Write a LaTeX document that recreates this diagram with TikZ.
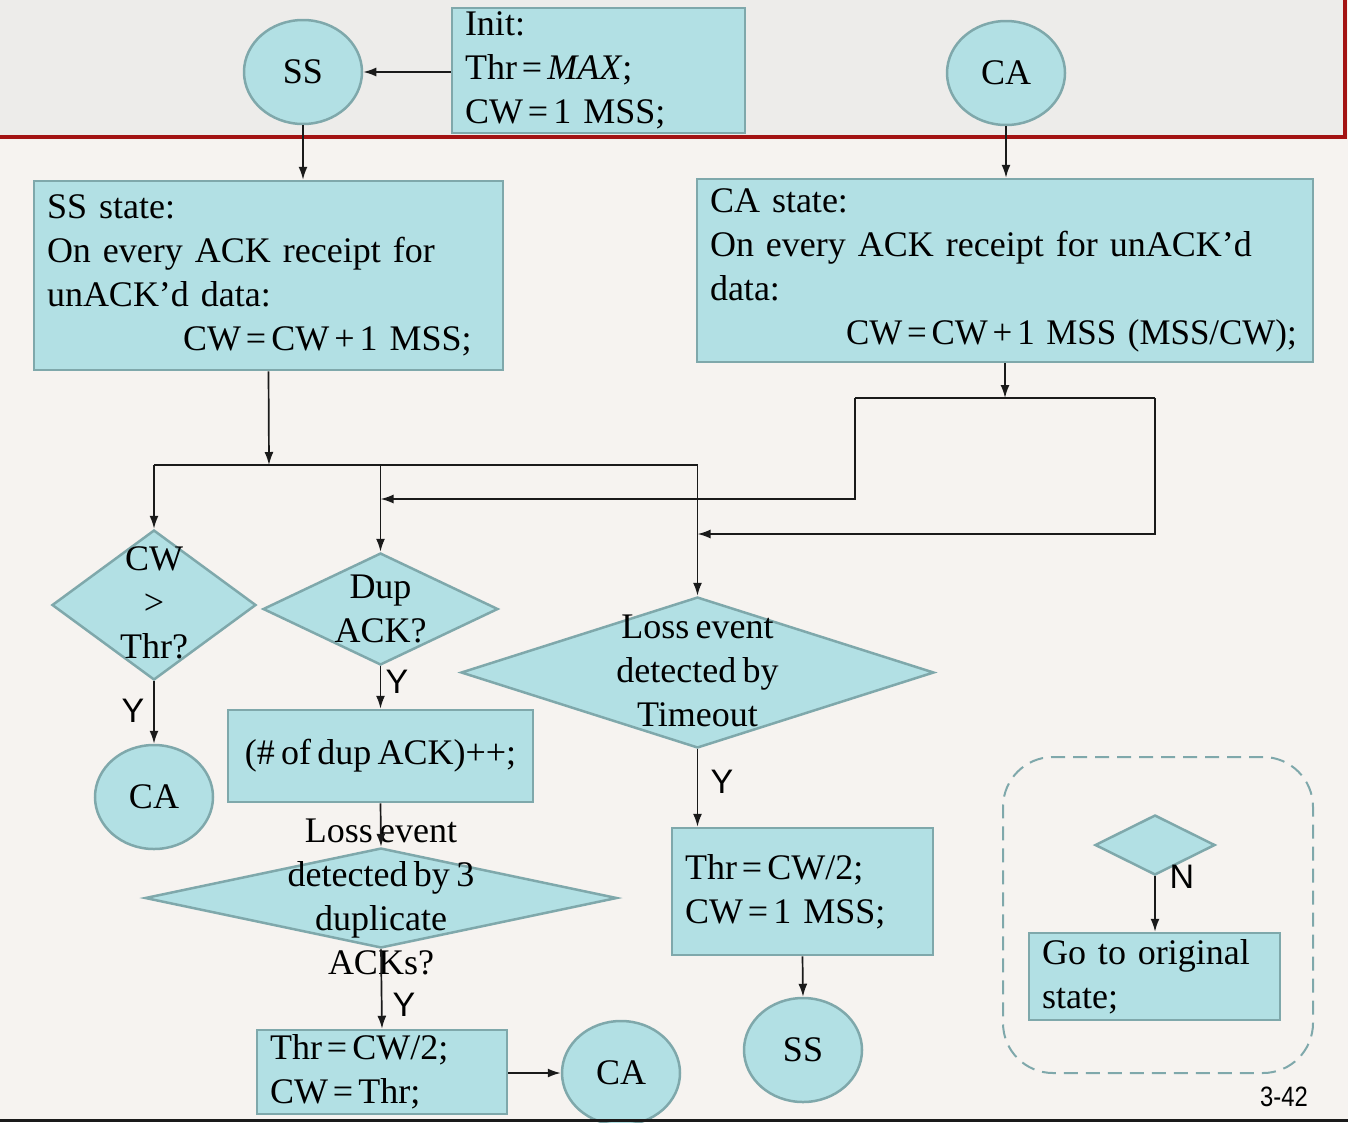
\documentclass[tikz,border=0pt]{standalone}
\usepackage{fontspec}
\setmainfont[WordSpace=0.7]{Liberation Serif}
\newfontfamily\lsans{Liberation Sans}
\usepackage{graphicx}
\usetikzlibrary{shapes.geometric,arrows.meta}
\definecolor{boxfill}{HTML}{B2E0E4}
\definecolor{boxline}{HTML}{7FA8AB}
\definecolor{bgtop}{HTML}{EDECEA}
\definecolor{bgbot}{HTML}{F6F3F0}
\definecolor{redline}{HTML}{A31313}
\definecolor{ink}{HTML}{1A1A1A}
\newcommand{\myeq}{\kern5pt=\kern5pt}
\newcommand{\mypl}{\kern5pt+\kern5pt}
\begin{document}
\begin{tikzpicture}[x=1pt,y=-1pt,
  txt/.style={font=\fontsize{36}{44}\selectfont},
  stbox/.style={draw=boxline,fill=boxfill,line width=2.5pt,rectangle,inner xsep=13pt,inner ysep=0pt,txt,align=left},
  stcirc/.style={draw=boxline,fill=boxfill,line width=2.5pt,ellipse,minimum width=118pt,minimum height=104pt,inner sep=0pt,txt},
  stdiam/.style={draw=boxline,fill=boxfill,line width=2.5pt,diamond,inner sep=0pt},
  dtext/.style={txt,align=center,inner sep=0pt},
  arr/.style={-{Latex[length=13pt,width=9pt]},line width=1.7pt,draw=ink},
  plain/.style={line width=1.7pt,draw=ink},
  lab/.style={font=\lsans\fontsize{34}{34}\selectfont,inner sep=0pt}]
\useasboundingbox (0,0) rectangle (1348,1122);
% background
\fill[bgbot] (0,0) rectangle (1348,1122);
\fill[bgtop] (0,0) rectangle (1345,137);
\draw[redline,line width=4pt] (0,137) -- (1345,137) -- (1345,0);

% top row
\node[stcirc] (ss1) at (303,72) {SS};
\node[stbox,text width=267pt,minimum height=125pt] (init) at (598.5,70.5) {\mbox{Init:}\\\mbox{Thr\myeq\textit{MAX};}\\\mbox{CW\myeq 1 MSS;}};
\node[stcirc] (ca1) at (1006,73) {CA};

% state boxes
\node[stbox,text width=443pt,minimum height=189pt] (ssbox) at (268.5,275.5)
  {\mbox{SS state:}\\\mbox{On every ACK receipt for}\\\mbox{unACK’d data:}\\\mbox{\hspace*{136pt}CW\myeq CW\mypl 1 MSS;}};
\node[stbox,text width=590pt,minimum height=183pt] (cabox) at (1005,270.5)
  {\mbox{CA state:}\\\mbox{On every ACK receipt for unACK’d}\\\mbox{data:}\\\mbox{\hspace*{136pt}\scalebox{0.97}[1]{CW\myeq CW\mypl 1 MSS (MSS/CW);}}};

% diamonds
\node[stdiam,minimum width=204pt,minimum height=150pt] (cw) at (154,605) {};
\node[dtext] (cwt) at (154,603) {CW\\>\\Thr?};
\node[stdiam,minimum width=235pt,minimum height=112pt] (dup) at (380.5,609) {};
\node[dtext] (dupt) at (380.5,609) {Dup\\ACK?};
\node[stdiam,minimum width=473pt,minimum height=151pt] (to) at (697.5,672.5) {};
\node[dtext] (tot) at (697.5,671) {Loss event\\detected by\\Timeout};

% lower nodes
\node[stcirc] (ca2) at (154,797) {CA};
\node[stbox,align=center,minimum width=305pt,minimum height=92pt] (cnt) at (380.5,756) {(\# of dup ACK)++;};
\node[stdiam,minimum width=472pt,minimum height=100pt] (dup3) at (381,898) {};
\node[dtext] (dup3t) at (381,897) {Loss event\\detected by 3\\duplicate\\ACKs?};
\node[stbox,text width=224pt,minimum height=84pt] (thr1) at (382,1072) {\mbox{Thr\myeq CW/2;}\\\mbox{CW\myeq Thr;}};
\node[stcirc] (ca3) at (621,1073) {CA};
\node[stbox,text width=235pt,minimum height=127pt] (tb2) at (802.5,891.5) {\mbox{Thr\myeq CW/2;}\\\mbox{CW\myeq 1 MSS;}};
\node[stcirc] (ss2) at (803,1050) {SS};

% legend
\node[draw=boxline,line width=2pt,dash pattern=on 14pt off 8pt,rounded corners=50pt,minimum width=310pt,minimum height=316pt,inner sep=0pt] (leg) at (1158,915) {};
\node[stdiam,minimum width=120pt,minimum height=60pt] (ld) at (1155,845) {};
\node[stbox,text width=225pt,minimum height=87pt] (gbox) at (1154.5,976.5) {\mbox{Go to original}\\\mbox{state;}};

% junction coordinates
\coordinate (j1) at (269,465);
\coordinate (hl) at (154,465);
\coordinate (hr) at (697.5,465);
\coordinate (j2) at (1005,398);
\coordinate (cl) at (855,398);
\coordinate (cr) at (1155,398);
\coordinate (cl2) at (855,499);
\coordinate (cr2) at (1155,534);

% connectors
\draw[arr] (init.west |- ss1) -- (ss1.east);
\draw[arr] (ss1.south) -- (ss1.south |- ssbox.north);
\draw[arr] (ca1.south) -- (ca1.south |- cabox.north);
\draw[arr] (ssbox.south) -- (j1);
\draw[plain] (hl) -- (hr);
\draw[arr] (hl) -- (cw.north);
\draw[arr] (dup.north |- hl) -- (dup.north);
\draw[arr] (hr) -- (to.north);
\draw[arr] (cabox.south) -- (j2);
\draw[plain] (cl) -- (cr);
\draw[arr] (cl) -- (cl2) -- (dup.north |- cl2);
\draw[arr] (cr) -- (cr2) -- (to.north |- cr2);
\draw[arr] (cw.south) -- (ca2.north);
\draw[arr] (dup.south) -- (cnt.north);
\draw[arr] (cnt.south) -- (dup3.north);
\draw[arr] (dup3.south) -- (thr1.north);
\draw[arr] (thr1.east |- ca3) -- (ca3.west);
\draw[arr] (to.south) -- (to.south |- tb2.north);
\draw[arr] (tb2.south) -- (ss2.north);
\draw[arr] (ld.south) -- (ld.south |- gbox.north);

% labels
\node[lab] (y1) at (133,711) {Y};
\node[lab] (y2) at (397,682) {Y};
\node[lab] (y3) at (404,1005) {Y};
\node[lab] (y4) at (722,782) {Y};
\node[lab] (n1) at (1182,877) {N};
\node[font=\lsans\fontsize{28}{28}\selectfont,inner sep=0pt] (pg) at (1284,1097) {\scalebox{0.85}[1]{3-42}};

\draw[ink,line width=3pt] (0,1120.5) -- (1348,1120.5);
\end{tikzpicture}
\end{document}
